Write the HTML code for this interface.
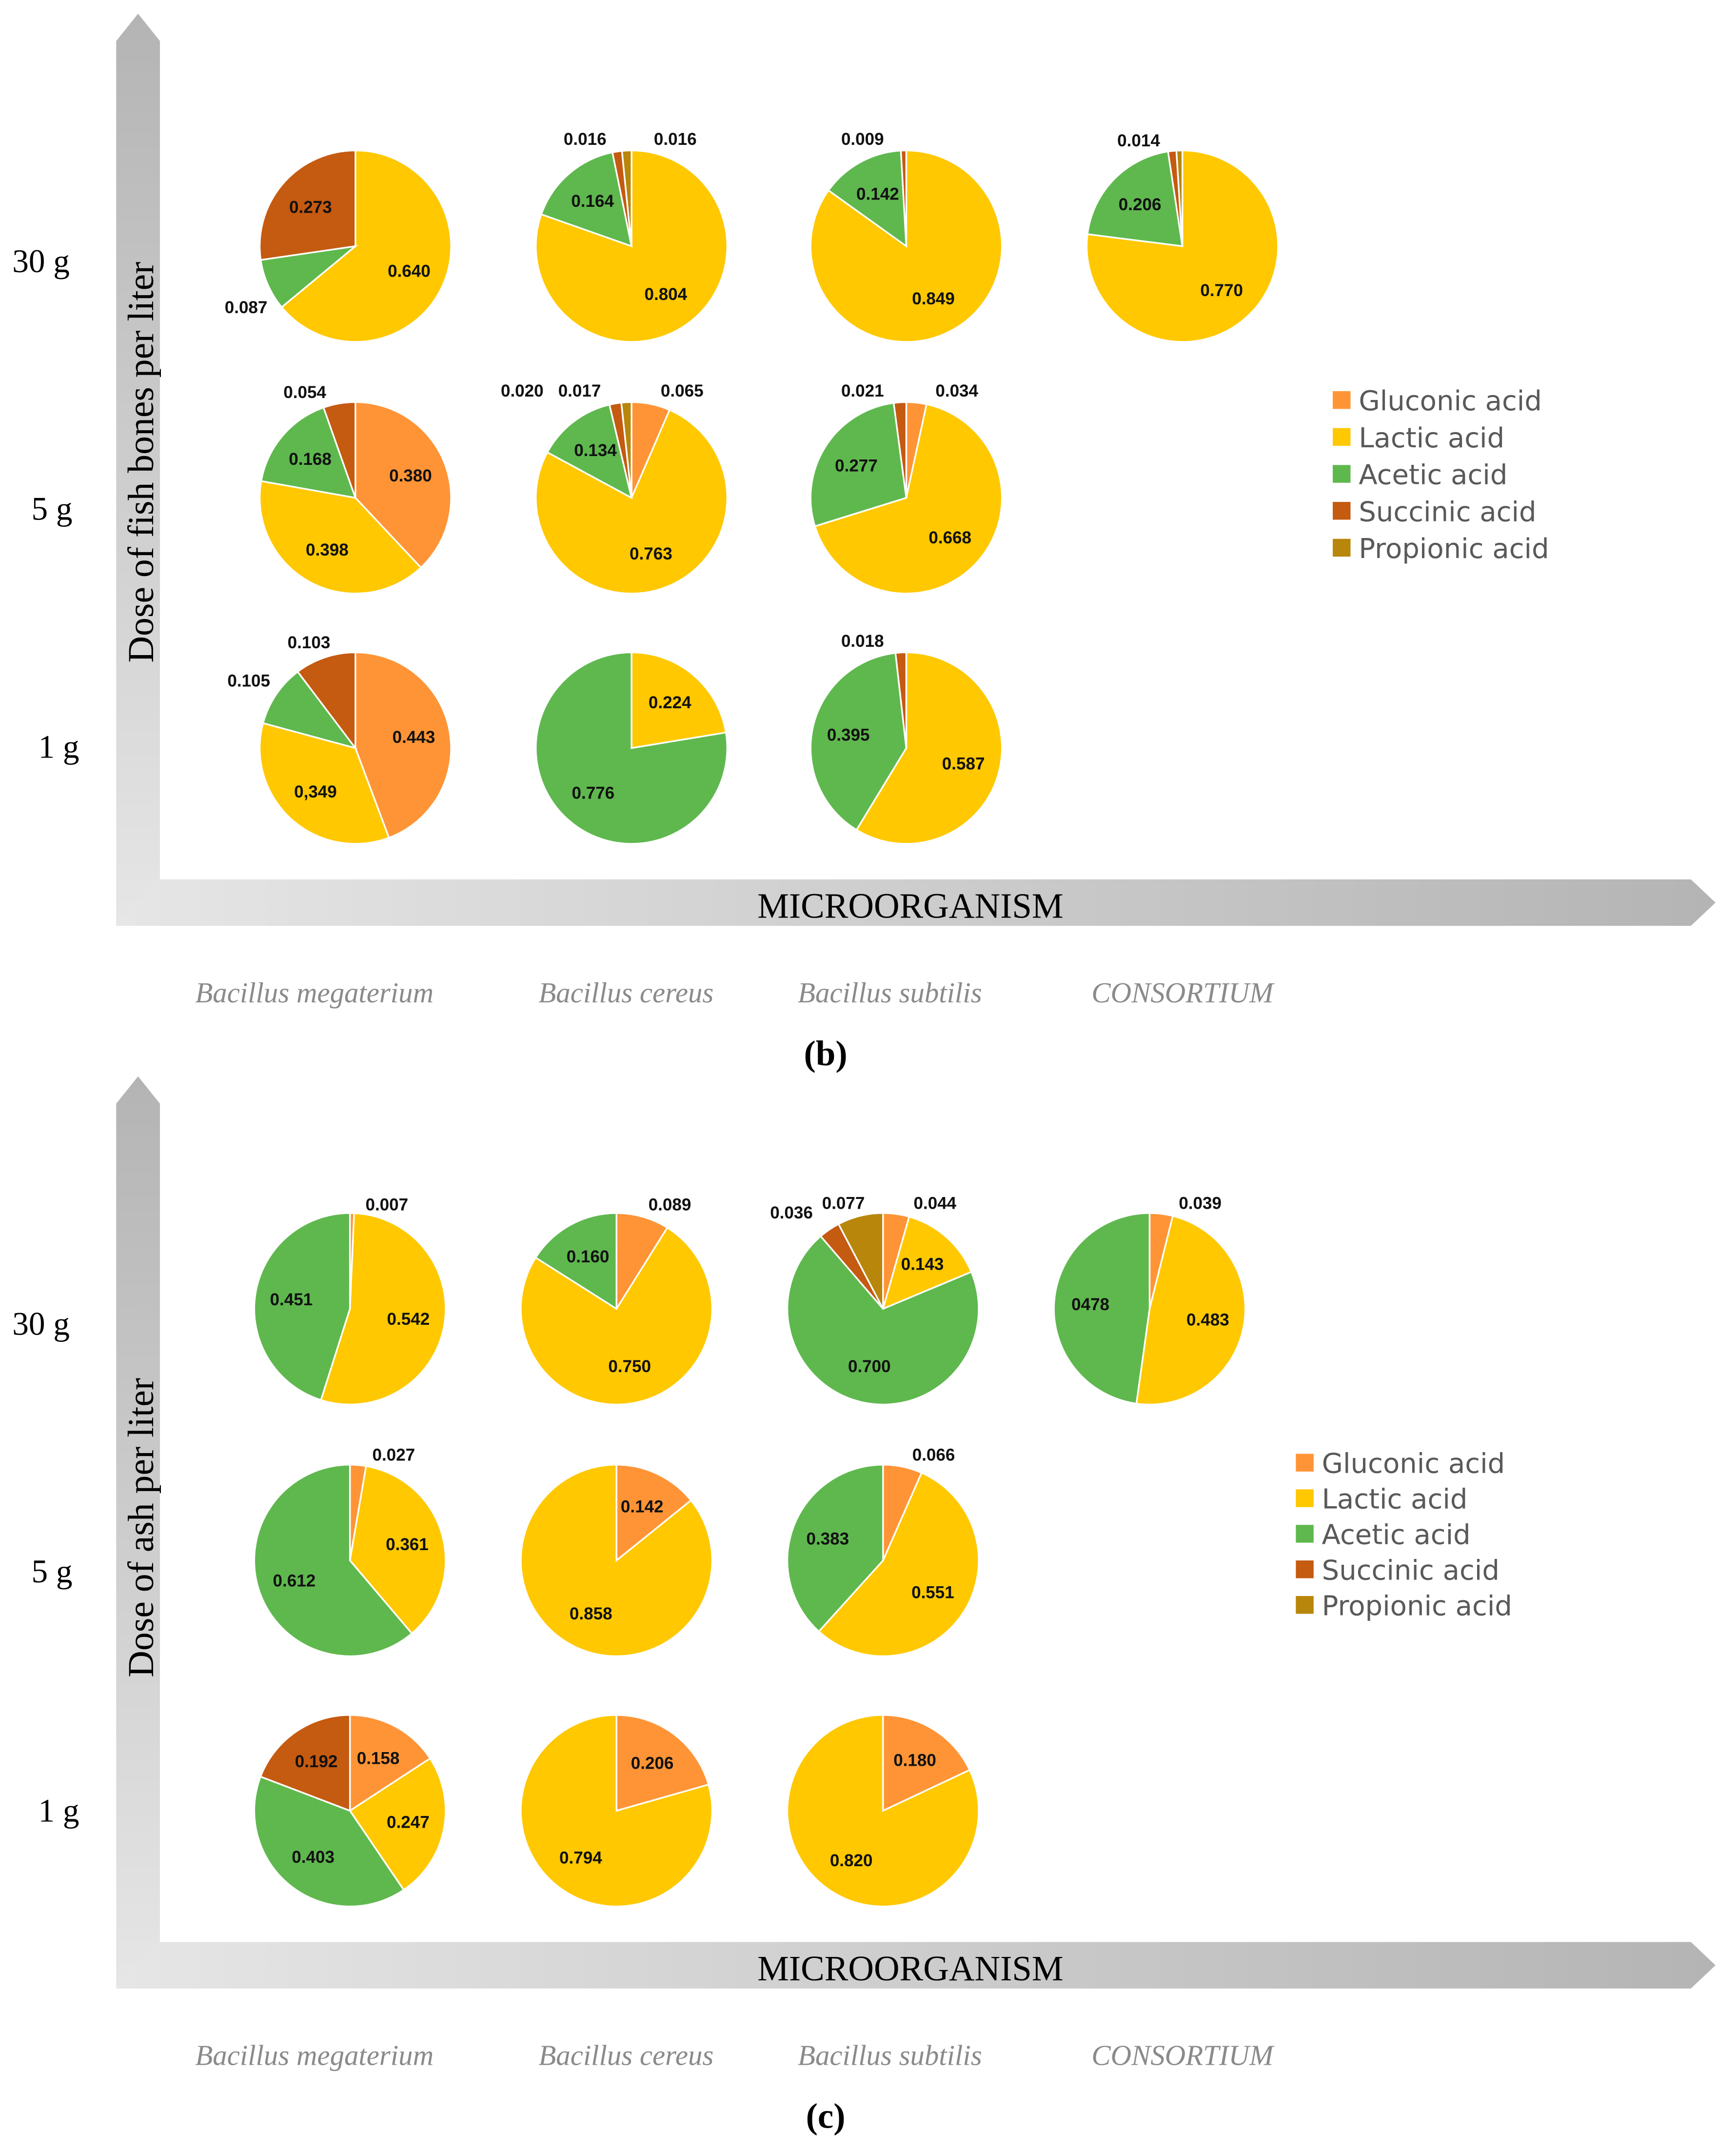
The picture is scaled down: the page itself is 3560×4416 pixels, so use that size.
<!DOCTYPE html>
<html><head><meta charset="utf-8"><style>html,body{margin:0;padding:0;background:#fff}svg{display:block}</style></head>
<body>
<svg id="chart" width="3560" height="4416" viewBox="0 0 1270 1575" preserveAspectRatio="none" xmlns="http://www.w3.org/2000/svg">
<defs>
<linearGradient id="gv" x1="0" y1="0" x2="0" y2="1"><stop offset="0" stop-color="#b4b4b4"/><stop offset="1" stop-color="#e6e6e6"/></linearGradient>
<linearGradient id="gh" x1="0" y1="0" x2="1" y2="0"><stop offset="0" stop-color="#e6e6e6"/><stop offset="1" stop-color="#b4b4b4"/></linearGradient>
</defs>
<g id="layer"></g>
</svg>
<script>
const NS='http://www.w3.org/2000/svg';
const acids=['Gluconic acid','Lactic acid','Acetic acid','Succinic acid','Propionic acid'];
const acidColors=['#FF9436','#FFC800','#5FB84E','#C55A11','#B8860B'];
const microbes=['Bacillus megaterium','Bacillus cereus','Bacillus subtilis','CONSORTIUM'];
const doses=['30 g','5 g','1 g'];
// panel b values [gluconic, lactic, acetic, succinic, propionic]
const bValues=[
 [[0,0.640,0.087,0.273,0],[0,0.804,0.164,0.016,0.016],[0,0.849,0.142,0.009,0],[0,0.770,0.206,0.014,0.010]],
 [[0.380,0.398,0.168,0.054,0],[0.065,0.763,0.134,0.020,0.017],[0.034,0.668,0.277,0.021,0],null],
 [[0.443,0.349,0.105,0.103,0],[0,0.224,0.776,0,0],[0,0.587,0.395,0.018,0],null]];
const bLabels=[
 [['','0.640','0.087','0.273',''],['','0.804','0.164','0.016','0.016'],['','0.849','0.142','0.009',''],['','0.770','0.206','0.014','']],
 [['0.380','0.398','0.168','0.054',''],['0.065','0.763','0.134','0.020','0.017'],['0.034','0.668','0.277','0.021',''],null],
 [['0.443','0,349','0.105','0.103',''],['','0.224','0.776','',''],['','0.587','0.395','0.018',''],null]];
// panel c values
const cValues=[
 [[0.007,0.542,0.451,0,0],[0.089,0.750,0.160,0,0],[0.044,0.143,0.700,0.036,0.077],[0.039,0.483,0.478,0,0]],
 [[0.027,0.361,0.612,0,0],[0.142,0.858,0,0,0],[0.066,0.551,0.383,0,0],null],
 [[0.158,0.247,0.403,0.192,0],[0.206,0.794,0,0,0],[0.180,0.820,0,0,0],null]];
const cLabels=[
 [['0.007','0.542','0.451','',''],['0.089','0.750','0.160','',''],['0.044','0.143','0.700','0.036','0.077'],['0.039','0.483','0478','','']],
 [['0.027','0.361','0.612','',''],['0.142','0.858','','',''],['0.066','0.551','0.383','',''],null],
 [['0.158','0.247','0.403','0.192',''],['0.206','0.794','','',''],['0.180','0.820','','',''],null]];

// layout: manual positions for outside labels (offsets relative to pie center)
const outsideLayout={
 'b-0-0-2':[-80,45],'b-0-1-3':[-34,-78],'b-0-1-4':[32,-78],'b-0-2-3':[-32,-78],'b-0-3-3':[-32,-77],
 'b-1-0-3':[-37,-77],'b-1-1-3':[-80,-78],'b-1-1-4':[-38,-78],'b-1-1-0':[37,-78],'b-1-2-3':[-32,-78],'b-1-2-0':[37,-78],
 'b-2-0-3':[-34,-77],'b-2-0-2':[-78,-49],'b-2-2-3':[-32,-78],
 'c-0-0-0':[27,-76],'c-0-1-0':[39,-76],'c-0-2-3':[-67,-70],'c-0-2-4':[-29,-77],'c-0-2-0':[38,-77],'c-0-3-0':[37,-77],
 'c-1-0-0':[32,-77],'c-1-2-0':[37,-77]
};

const layer=document.getElementById('layer');
function el(tag,attrs,parent,text){const e=document.createElementNS(NS,tag);for(const k in attrs)e.setAttribute(k,attrs[k]);if(text!==undefined)e.textContent=text;(parent||layer).appendChild(e);return e;}

function panel(p){
  const g=el('g',{});
  
  
  const top=p.top, bot=p.top+667, hy=bot-34;
  const va=el('polygon',{points:`85,${bot} 85,${top+20} 101,${top} 117,${top+20} 117,${hy}`,fill:'url(#gv)'},g);
  
  
  const ha=el('polygon',{points:`85,${bot} 117,${hy} 1237,${hy} 1255,${hy+17} 1237,${bot}`,fill:'url(#gh)'},g);
  
  
  const yt=el('text',{x:0,y:0,transform:`translate(112,${p.ytitleY}) rotate(-90)`,'text-anchor':'middle','font-family':'Liberation Serif, serif','font-size':27,fill:'#000'},g,p.ytitle);
  
  
  const xt=el('text',{x:666,y:hy+28,'text-anchor':'middle','font-family':'Liberation Serif, serif','font-size':26,fill:'#000'},g,'MICROORGANISM');
  
  
  const catX=[230,458,651,865];
  microbes.forEach((m,i)=>{
    const t=el('text',{x:catX[i],y:top+723,'text-anchor':'middle','font-family':'Liberation Serif, serif','font-style':'italic','font-size':21,fill:'#8a8a8a'},g,m);
    
    
  });
  doses.forEach((d,i)=>{
    const t=el('text',{x:p.doseX[i],y:p.doseY[i],'text-anchor':'middle','font-family':'Liberation Serif, serif','font-size':24,fill:'#000'},g,d);
    
    
  });
  const cap=el('text',{x:604,y:top+769,'text-anchor':'middle','font-family':'Liberation Serif, serif','font-size':26,'font-weight':'bold',fill:'#000'},g,p.caption);
  
  
  const R=70;
  p.values.forEach((row,ri)=>row.forEach((vals,ci)=>{
    if(!vals)return;
    const cx=p.colX[ci], cy=p.rowY[ri];
    const pg=el('g',{},g);
    
    
    const tot=vals.reduce((a,b)=>a+b,0);
    let a0=0;
    vals.forEach((v,k)=>{
      if(v<=0)return;
      const a1=a0+v/tot*2*Math.PI;
      const x0=cx+R*Math.sin(a0),y0=cy-R*Math.cos(a0),x1=cx+R*Math.sin(a1),y1=cy-R*Math.cos(a1);
      let s;
      if(v/tot>0.9999) s=el('circle',{cx:cx,cy:cy,r:R,fill:acidColors[k],stroke:'#fff','stroke-width':1.2},pg);
      else s=el('path',{d:`M${cx},${cy} L${x0},${y0} A${R},${R} 0 ${a1-a0>Math.PI?1:0} 1 ${x1},${y1} Z`,fill:acidColors[k],stroke:'#fff','stroke-width':1.2},pg);
      
      
      const lab=p.labels[ri][ci][k];
      if(lab){
        const am=(a0+a1)/2;
        const key=p.key+'-'+ri+'-'+ci+'-'+k;
        let lx,ly;
        if(outsideLayout[key]){lx=cx+outsideLayout[key][0];ly=cy+outsideLayout[key][1]+4;}
        else {const rr=R*0.62;lx=cx+rr*Math.sin(am);ly=cy-rr*Math.cos(am)+4;}
        const t=el('text',{x:lx,y:ly,'text-anchor':'middle','font-family':'Liberation Sans, sans-serif','font-weight':'bold','font-size':12.5,fill:'#111'},pg,lab);
        
        
      }
      a0=a1;
    });
  }));
  const lg=el('g',{},g);
  
  
  acids.forEach((a,i)=>{
    const y=p.legY+i*p.legStep;
    const r=el('rect',{x:p.legX,y:y-7,width:13,height:13,fill:acidColors[i]},lg);
    
    
    const t=el('text',{x:p.legX+19,y:y+7,'font-family':'DejaVu Sans, Liberation Sans, sans-serif','font-size':20,fill:'#595959'},lg,a);
    
    
  });
}
panel({name:'panel-b',key:'b',top:10,values:bValues,labels:bLabels,colX:[260,462,663,865],rowY:[180,364,547],doseX:[30,38,43],doseY:[199,380,554],ytitle:'Dose of fish bones per liter',ytitleY:338,caption:'(b)',legX:975,legY:293,legStep:27});
panel({name:'panel-c',key:'c',top:787,values:cValues,labels:cLabels,colX:[256,451,646,841],rowY:[957,1141,1324],doseX:[30,38,43],doseY:[976,1157,1332],ytitle:'Dose of ash per liter',ytitleY:1117,caption:'(c)',legX:948,legY:1070,legStep:26});
</script>
</body></html>
